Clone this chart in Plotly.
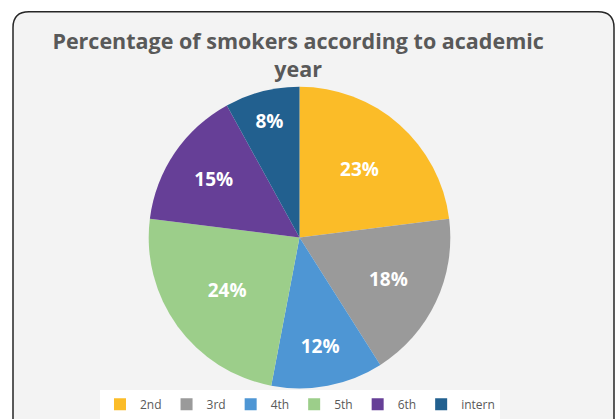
import plotly.graph_objects as go

categories = ["2nd", "3rd", "4th", "5th", "6th", "intern"]
values = [23, 18, 12, 24, 15, 8]
colors = ["#FBBC28", "#9A9A9A", "#4E96D4", "#9CCE8A", "#663F97", "#22608F"]

W, H = 616, 419

def px(x):
    return x / W

def py(y):
    return 1 - y / H

fig = go.Figure()
fig.add_trace(go.Pie(
    labels=categories,
    values=values,
    marker=dict(colors=colors, line=dict(color="white", width=0)),
    sort=False,
    direction="clockwise",
    rotation=0,
    texttemplate="%{value}%",
    textposition="inside",
    insidetextorientation="horizontal",
    textfont=dict(family="Open Sans", size=19, color="white", weight="bold"),
    hoverinfo="label+percent",
    domain=dict(x=[px(299.5 - 153), px(299.5 + 153)], y=[py(394), py(88)]),
))

# rounded border
x0, y0, x1, y1, r = 13, 12, 614, 430, 16
path = (
    f"M {px(x0)},{py(y0 + r)} "
    f"Q {px(x0)},{py(y0)} {px(x0 + r)},{py(y0)} "
    f"L {px(x1 - r)},{py(y0)} "
    f"Q {px(x1)},{py(y0)} {px(x1)},{py(y0 + r)} "
    f"L {px(x1)},{py(y1)} L {px(x0)},{py(y1)} Z"
)
fig.add_shape(type="path", xref="paper", yref="paper", path=path,
              line=dict(color="#262626", width=1.5), fillcolor="#F3F3F3", layer="below")

fig.update_layout(
    width=W, height=H,
    margin=dict(l=0, r=0, t=0, b=0),
    paper_bgcolor="white",
    plot_bgcolor="white",
    title=dict(
        text="Percentage of smokers according to academic<br>year",
        x=0.484, xanchor="center", y=py(49), yanchor="top",
        font=dict(family="Open Sans", size=21.5, color="#595959", weight="bold"),
    ),
    showlegend=True,
    legend=dict(
        orientation="h", x=0.487, xanchor="center", y=py(410), yanchor="middle",
        font=dict(family="Open Sans", size=12, color="#595959"),
        bgcolor="white", itemwidth=30, traceorder="normal",
    ),
)

fig.write_html(
    "out.html",
    config={"displayModeBar": False},
    post_script="document.body.style.margin='0';document.body.style.overflow='hidden';",
)
